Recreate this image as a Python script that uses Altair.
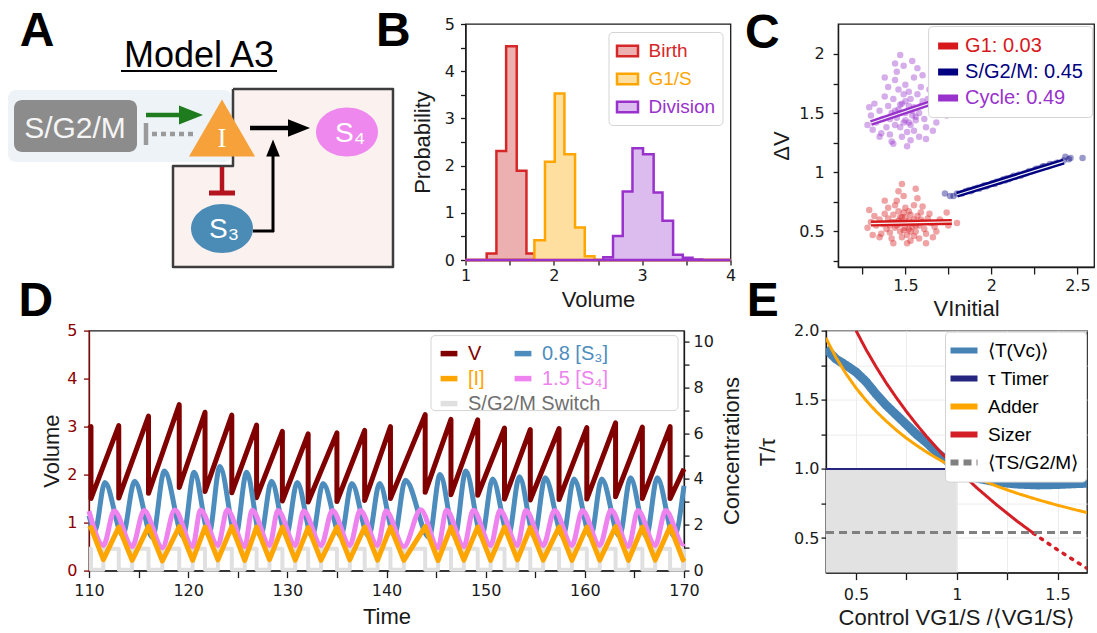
import altair as alt
import pandas as pd

SANS = "Liberation Sans"
TICKF = "DejaVu Sans"
INK = "#1a1a1a"

# ======================= Panel A : model diagram (drawing units) =======================
A_box_x = [7, 13]
A_box_x2 = [231, 136]
A_box_y = [90, 100]
A_box_y2 = [162, 152]
A_box_fill = ["#edf3f7", "#8c8c8c"]

A_cell_x = [232, 172]
A_cell_x2 = [392, 233]
A_cell_y = [89, 166]
A_cell_y2 = [267, 267]

A_outline_x = [232, 392, 392, 172, 172, 232, 232]
A_outline_y = [89, 89, 267, 267, 166, 166, 89]

A_seg_x = [145, 249, 221, 208, 252, 272, 145, 120]
A_seg_x2 = [183, 292, 221, 234, 273, 272, 145, 276]
A_seg_y = [115, 128, 167, 193, 231, 232, 123, 71]
A_seg_y2 = [115, 128, 192, 193, 231, 153, 145, 71]
A_seg_col = ["#1e7b1e", "#000000", "#b4141e", "#b4141e", "#000000", "#000000", "#9a9a9a", "#000000"]
A_seg_w = [4.5, 4.5, 4.5, 5, 3, 3, 4.5, 2]

A_dot_x = [151]
A_dot_x2 = [193]
A_dot_y = [134]

RIGHT_HEAD = "M-1,-0.8L1,0L-1,0.8Z"
UP_HEAD = "M-0.8,1L0,-1L0.8,1Z"
TRIANGLE = "M0,-0.866L1,0.866L-1,0.866Z"
ELLIPSE = "M-1,0A1,0.79,0,1,1,1,0A1,0.79,0,1,1,-1,0Z"

A_node_x = [190, 298, 272, 221, 346, 221]
A_node_y = [115, 128, 148, 128, 132, 228.5]
A_node_shape = [RIGHT_HEAD, RIGHT_HEAD, UP_HEAD, TRIANGLE, ELLIPSE, ELLIPSE]
A_node_size = [576, 484, 289, 4356, 3844, 3844]
A_node_col = ["#1e7b1e", "#000000", "#000000", "#f6a13a", "#ee88ee", "#4b8cb6"]

A_txt = ["Model A3", "S/G2/M", "S₄", "S₃"]
A_txt_x = [198, 74, 349, 223]
A_txt_y = [67, 138, 142, 238]
A_txt_size = [36, 30, 28, 28]
A_txt_col = ["#000000", "#f5f5f5", "#ffffff", "#ffffff"]

# ======================= Panel B : volume histograms =======================
B_series = ["Birth", "G1/S", "Division"]
B_line = ["#d62728", "#ffa500", "#9932cc"]
B_fill = ["#ecb0b0", "#ffdfa0", "#dcbcee"]
B_birth_edges = [1.24, 1.35, 1.46, 1.58, 1.69, 1.78]
B_birth_h = [0.14, 2.31, 4.53, 1.89, 0.14]
B_g1s_edges = [1.78, 1.90, 2.01, 2.12, 2.24, 2.35, 2.46]
B_g1s_h = [0.42, 2.08, 3.53, 2.24, 0.69, 0.08]
B_div_edges = [2.56, 2.67, 2.78, 2.89, 3.01, 3.13, 3.23, 3.35, 3.46, 3.57, 3.68]
B_div_h = [0.06, 0.51, 1.45, 2.37, 2.24, 1.43, 0.83, 0.11, 0.05, 0.01]

# ======================= Panel C : added volume vs initial volume =======================
C_series = ["G1: 0.03", "S/G2/M: 0.45", "Cycle: 0.49"]
C_cols = ["#d7191c", "#000080", "#9932cc"]
C_g1_pts = [(1.50,0.57),(1.45,0.55),(1.55,0.60),(1.48,0.62),(1.52,0.52),(1.42,0.58),(1.58,0.55),(1.47,0.50),
            (1.53,0.64),(1.40,0.61),(1.60,0.58),(1.44,0.53),(1.56,0.50),(1.49,0.66),(1.51,0.47),(1.37,0.56),
            (1.63,0.61),(1.46,0.59),(1.54,0.54),(1.43,0.64),(1.57,0.63),(1.39,0.52),(1.61,0.52),(1.50,0.70),
            (1.48,0.45),(1.35,0.60),(1.65,0.57),(1.41,0.49),(1.59,0.66),(1.52,0.59),(1.46,0.67),(1.55,0.46),
            (1.33,0.55),(1.67,0.54),(1.44,0.72),(1.53,0.42),(1.38,0.65),(1.62,0.48),(1.50,0.53),(1.47,0.56),
            (1.30,0.58),(1.70,0.60),(1.36,0.48),(1.64,0.65),(1.45,0.76),(1.55,0.72),(1.42,0.44),(1.58,0.44),
            (1.32,0.63),(1.68,0.50),(1.28,0.53),(1.72,0.58),(1.49,0.80),(1.40,0.70),(1.60,0.71),(1.35,0.45),
            (1.66,0.45),(1.51,0.40),(1.43,0.40),(1.75,0.55),(1.46,0.84),(1.29,0.68),(1.74,0.66),(1.57,0.78),
            (1.38,0.76),(1.62,0.40),(1.31,0.47),(1.80,0.57),(1.48,0.90),(1.56,0.86),(1.54,0.57),(1.47,0.62),
            (1.53,0.50),(1.41,0.55),(1.59,0.60),(1.50,0.62),(1.44,0.58),(1.56,0.55),(1.49,0.51),(1.52,0.67)]
C_sg_pts = [(1.73,0.82),(1.76,0.80),(1.78,0.80),(1.80,0.82),(1.83,0.82),(1.85,0.84),(1.87,0.85),(1.88,0.84),
            (1.89,0.85),(1.90,0.86),(1.92,0.87),(1.93,0.86),(1.95,0.88),(1.96,0.89),(1.97,0.88),(1.98,0.89),
            (2.00,0.90),(2.01,0.91),(2.02,0.90),(2.03,0.92),(2.04,0.92),(2.05,0.92),(2.06,0.93),(2.07,0.94),
            (2.08,0.93),(2.09,0.95),(2.10,0.94),(2.11,0.95),(2.12,0.96),(2.13,0.97),(2.14,0.96),(2.15,0.97),
            (2.16,0.98),(2.17,0.97),(2.18,0.98),(2.19,0.99),(2.20,0.99),(2.21,1.00),(2.22,1.01),(2.24,1.01),
            (2.25,1.02),(2.26,1.03),(2.27,1.03),(2.29,1.04),(2.30,1.05),(2.31,1.05),(2.33,1.05),(2.34,1.07),
            (2.36,1.07),(2.38,1.08),(2.39,1.08),(2.42,1.10),(2.43,1.13),(2.45,1.11),(2.46,1.12),(2.53,1.12)]
C_cyc_pts = [(1.50,1.50),(1.45,1.46),(1.55,1.55),(1.48,1.58),(1.52,1.42),(1.42,1.50),(1.58,1.50),(1.47,1.38),
             (1.53,1.62),(1.40,1.56),(1.60,1.60),(1.44,1.40),(1.56,1.44),(1.49,1.66),(1.51,1.34),(1.37,1.45),
             (1.63,1.62),(1.46,1.53),(1.54,1.48),(1.43,1.62),(1.57,1.66),(1.39,1.38),(1.61,1.45),(1.50,1.74),
             (1.48,1.30),(1.35,1.52),(1.65,1.55),(1.41,1.32),(1.59,1.72),(1.52,1.56),(1.46,1.70),(1.55,1.35),
             (1.33,1.42),(1.67,1.50),(1.44,1.78),(1.53,1.27),(1.38,1.64),(1.62,1.38),(1.50,1.44),(1.47,1.50),
             (1.30,1.48),(1.70,1.62),(1.36,1.33),(1.64,1.70),(1.45,1.85),(1.55,1.80),(1.42,1.26),(1.58,1.30),
             (1.32,1.58),(1.68,1.42),(1.28,1.40),(1.72,1.55),(1.49,1.90),(1.40,1.72),(1.60,1.82),(1.35,1.30),
             (1.66,1.35),(1.51,1.22),(1.43,1.24),(1.74,1.48),(1.47,1.99),(1.29,1.55),(1.73,1.70),(1.57,1.88),
             (1.38,1.80),(1.62,1.28),(1.31,1.36),(1.76,1.60),(1.44,1.92),(1.54,1.94),(1.54,1.52),(1.47,1.57),
             (1.53,1.40),(1.41,1.45),(1.59,1.56),(1.50,1.60),(1.44,1.52),(1.56,1.47),(1.49,1.42),(1.52,1.68)]
C_fit_g1_x = [1.30, 1.77]
C_fit_g1_y = [0.566, 0.580]
C_fit_sg_x = [1.80, 2.42]
C_fit_sg_y = [0.81, 1.09]
C_fit_cyc_x = [1.30, 1.76]
C_fit_cyc_y = [1.416, 1.64]

# ======================= Panel D : time courses =======================
D_left_names = ["V", "[I]", "S/G2/M Switch"]
D_left_colors = ["#800000", "#ffa500", "#e0e0e0"]
D_left_label_colors = ["#800000", "#ffa500", "#6f6f6f"]
D_right_names = ["0.8 [S₃]", "1.5 [S₄]"]
D_right_colors = ["#4d8dbd", "#ee82ee"]
D_div = [110.2, 113.0, 116.0, 119.1, 121.7, 124.4, 126.9, 129.5, 132.1, 135.0, 137.8,
         140.4, 143.9, 146.5, 149.2, 151.9, 154.5, 157.4, 160.2, 163.1, 165.8, 168.6]
D_Vpeak = [3.0, 3.02, 3.22, 3.46, 3.3, 3.24, 3.03, 2.9, 2.85, 2.87, 2.92,
           3.0, 3.25, 3.15, 3.14, 2.97, 2.94, 2.96, 2.98, 3.08, 2.99, 3.0]
D_Vbirth = [1.5, 1.51, 1.61, 1.73, 1.65, 1.62, 1.52, 1.45, 1.43, 1.44, 1.46,
            1.5, 1.63, 1.58, 1.57, 1.49, 1.47, 1.48, 1.49, 1.54, 1.5, 1.5]
D_g1s = [111.45, 114.35, 117.4, 120.45, 123.0, 125.7, 128.2, 130.8, 133.4, 136.3, 139.1,
         141.75, 145.2, 147.8, 150.5, 153.2, 155.8, 158.7, 161.5, 164.4, 167.1, 169.9]
D_Ipeak = [1.88, 1.9, 1.93, 1.92, 1.9, 1.92, 1.9, 1.9, 1.88, 1.9, 1.9,
           1.9, 1.92, 1.9, 1.9, 1.9, 1.88, 1.9, 1.9, 1.92, 1.9, 1.92]
D_Itrough = [0.48, 0.45, 0.42, 0.45, 0.47, 0.45, 0.48, 0.46, 0.45, 0.47, 0.46,
             0.45, 0.44, 0.46, 0.45, 0.47, 0.46, 0.45, 0.46, 0.45, 0.46, 0.47]
D_S3_tr_t = [110.6, 113.4, 116.4, 119.5, 122.1, 124.8, 127.3, 129.9, 132.5, 135.4, 138.2,
             140.8, 144.3, 146.9, 149.6, 152.3, 154.9, 157.8, 160.6, 163.5, 166.2, 169.0]
D_S3_tr = [1.75, 1.55, 1.45, 1.5, 1.6, 1.55, 1.5, 1.55, 1.5, 1.5, 1.5,
           1.55, 1.45, 1.5, 1.5, 1.55, 1.5, 1.5, 1.5, 1.5, 1.5, 1.5]
D_S3_pk_t = [111.6, 114.6, 117.6, 120.6, 123.2, 125.9, 128.4, 131.0, 133.6, 136.5, 139.3,
             141.9, 145.4, 148.0, 150.7, 153.4, 156.0, 158.9, 161.7, 164.6, 167.3]
D_S3_pk = [3.85, 3.9, 4.35, 4.3, 4.55, 4.3, 3.9, 3.85, 3.8, 3.8, 3.8,
           3.95, 4.2, 4.35, 4.0, 4.1, 4.05, 4.0, 4.0, 4.05, 4.05]
D_S4_pk_t = [112.55, 115.55, 118.65, 121.25, 123.95, 126.45, 129.05, 131.65, 134.55, 137.35, 139.95,
             143.45, 146.05, 148.75, 151.45, 154.05, 156.95, 159.75, 162.65, 165.35, 168.15]
D_S4_pk = [2.6, 2.62, 2.65, 2.65, 2.66, 2.64, 2.62, 2.6, 2.62, 2.62, 2.6,
           2.66, 2.64, 2.64, 2.62, 2.62, 2.62, 2.62, 2.64, 2.62, 2.62]
D_S4_tr = [1.1, 1.05, 1.0, 1.05, 1.1, 1.05, 1.1, 1.1, 1.1, 1.1, 1.1,
           1.05, 1.0, 1.05, 1.1, 1.1, 1.1, 1.1, 1.1, 1.05, 1.1, 1.15]
D_switch_hi = 0.95
D_switch_lo = 0.04

# ======================= Panel E : timing laws =======================
E_names = ["⟨T(Vᴄ)⟩", "τ Timer", "Adder", "Sizer", "⟨TS/G2/M⟩"]
E_colors = ["#4682b4", "#262680", "#ffa500", "#d41f26", "#808080"]
E_dashes = [[1, 0], [1, 0], [1, 0], [1, 0], [8, 5]]
E_T_x = [0.35, 0.4, 0.45, 0.5, 0.55, 0.6, 0.65, 0.7, 0.75, 0.8, 0.85, 0.9, 0.95, 1.0,
         1.05, 1.1, 1.2, 1.3, 1.4, 1.5, 1.6, 1.646]
E_T_y = [1.87, 1.795, 1.75, 1.70, 1.63, 1.54, 1.46, 1.39, 1.32, 1.25, 1.19, 1.12, 1.06, 1.0,
         0.96, 0.933, 0.904, 0.89, 0.884, 0.887, 0.894, 0.896]
E_adder_x = [0.35, 0.4, 0.45, 0.5, 0.55, 0.6, 0.65, 0.7, 0.75, 0.8, 0.85, 0.9, 0.95, 1.0,
             1.1, 1.2, 1.3, 1.4, 1.5, 1.6, 1.646]
E_adder_y = [1.947, 1.807, 1.688, 1.585, 1.495, 1.415, 1.345, 1.280, 1.222, 1.170, 1.122, 1.078,
             1.037, 1.0, 0.933, 0.874, 0.823, 0.778, 0.737, 0.700, 0.684]
E_sizer_x = [0.5, 0.55, 0.6, 0.65, 0.7, 0.75, 0.8, 0.85, 0.9, 0.95, 1.0, 1.1, 1.2, 1.3, 1.38]
E_sizer_y = [2.0, 1.862, 1.737, 1.621, 1.515, 1.415, 1.322, 1.234, 1.152, 1.074, 1.0, 0.862,
             0.737, 0.621, 0.535]
E_sizer_dot_x = [1.38, 1.45, 1.5, 1.55, 1.6, 1.646]
E_sizer_dot_y = [0.535, 0.464, 0.415, 0.368, 0.322, 0.281]
E_timer_x = [0.351, 1.646]
E_timer_y = [1.0, 1.0]
E_sg2m_x = [0.351, 1.646]
E_sg2m_y = [0.54, 0.54]
E_shade = {"x": [0.351], "x2": [1.0], "y": [0.25], "y2": [1.0]}


# ======================= helpers =======================
def label_color_expr(names, colors, default=INK):
    expr = f"'{default}'"
    for n, c in reversed(list(zip(names, colors))):
        expr = f"datum.label == '{n}' ? '{c}' : " + expr
    return {"expr": expr}


def letter(ch, dx, dy):
    return alt.Chart(pd.DataFrame({"t": [ch]})).mark_text(
        font=SANS, fontSize=48, fontWeight="bold", align="left", baseline="alphabetic", color="#000000"
    ).encode(text="t:N", x=alt.value(dx), y=alt.value(dy))


RES = dict(color="independent", fill="independent", stroke="independent", strokeDash="independent",
           shape="independent", size="independent", strokeWidth="independent")


def indep(c):
    return c.resolve_scale(**RES)


LEG = dict(title=None, fillColor="white", strokeColor="#d4d4d4", cornerRadius=4, labelFont=SANS)

# ======================= build Panel A =======================
axs = alt.Scale(domain=[0, 395], nice=False, zero=False)
ays = alt.Scale(domain=[24, 309], nice=False, zero=False, reverse=True)
AX = alt.X("x:Q", scale=axs, axis=None)
AY = alt.Y("y:Q", scale=ays, axis=None)

a_boxes = alt.Chart(pd.DataFrame({"x": A_box_x, "x2": A_box_x2, "y": A_box_y, "y2": A_box_y2, "c": A_box_fill})
                    ).mark_rect(cornerRadius=8).encode(x=AX, x2="x2:Q", y=AY, y2="y2:Q",
                                                       color=alt.Color("c:N", scale=None))
a_cell = alt.Chart(pd.DataFrame({"x": A_cell_x, "x2": A_cell_x2, "y": A_cell_y, "y2": A_cell_y2})
                   ).mark_rect(color="#fbf1ef").encode(x=AX, x2="x2:Q", y=AY, y2="y2:Q")
a_outline = alt.Chart(pd.DataFrame({"x": A_outline_x, "y": A_outline_y, "o": list(range(len(A_outline_x)))})
                      ).mark_line(color="#3d3d3d", strokeWidth=2.5, strokeJoin="round").encode(
    x=AX, y=AY, order="o:Q")
a_segs = alt.Chart(pd.DataFrame({"x": A_seg_x, "x2": A_seg_x2, "y": A_seg_y, "y2": A_seg_y2,
                                 "c": A_seg_col, "w": A_seg_w})).mark_rule().encode(
    x=AX, x2="x2:Q", y=AY, y2="y2:Q", color=alt.Color("c:N", scale=None),
    strokeWidth=alt.StrokeWidth("w:Q", scale=None))
a_dots = alt.Chart(pd.DataFrame({"x": A_dot_x, "x2": A_dot_x2, "y": A_dot_y})).mark_rule(
    color="#9a9a9a", strokeWidth=4.5, strokeDash=[5, 4]).encode(x=AX, x2="x2:Q", y=AY)
a_nodes = alt.Chart(pd.DataFrame({"x": A_node_x, "y": A_node_y, "s": A_node_shape, "z": A_node_size,
                                  "c": A_node_col})).mark_point(filled=True, opacity=1, strokeWidth=0).encode(
    x=AX, y=AY, shape=alt.Shape("s:N", scale=None), size=alt.Size("z:Q", scale=None),
    color=alt.Color("c:N", scale=None))
a_text = alt.Chart(pd.DataFrame({"x": A_txt_x, "y": A_txt_y, "t": A_txt, "f": A_txt_size, "c": A_txt_col})
                   ).mark_text(font=SANS, align="center", baseline="alphabetic").encode(
    x=AX, y=AY, text="t:N", size=alt.Size("f:Q", scale=None), color=alt.Color("c:N", scale=None))
a_I = alt.Chart(pd.DataFrame({"x": [221], "y": [147], "t": ["I"]})).mark_text(
    font="Liberation Serif", fontSize=27, color="white", align="center", baseline="alphabetic").encode(
    x=AX, y=AY, text="t:N")
a_letter = alt.Chart(pd.DataFrame({"x": [36], "y": [46], "t": ["A"]})).mark_text(
    font=SANS, fontSize=48, fontWeight="bold", align="center", baseline="alphabetic", color="#000").encode(
    x=AX, y=AY, text="t:N")
panelA = alt.layer(a_boxes, a_cell, a_outline, a_segs, a_dots, a_nodes, a_text, a_I, a_letter).properties(
    width=395, height=285, view=alt.ViewBackground(stroke="transparent"))

# ======================= build Panel B =======================
rowsB = []
for name, edges, hts in zip(B_series, [B_birth_edges, B_g1s_edges, B_div_edges], [B_birth_h, B_g1s_h, B_div_h]):
    rowsB.append({"series": name, "v": 1.0, "p": 0.0})
    for e, h in zip(edges[:-1], hts):
        rowsB.append({"series": name, "v": e, "p": h})
    rowsB.append({"series": name, "v": edges[-1], "p": 0.0})
    rowsB.append({"series": name, "v": 4.0, "p": 0.0})
dfB = pd.DataFrame(rowsB)
legB = alt.Legend(orient="top-right", offset=8, padding=7, labelFontSize=19,
                  labelColor=label_color_expr(B_series, B_line), symbolType="M-1,-0.5H1V0.5H-1Z",
                  symbolSize=441, symbolStrokeWidth=2.5, rowPadding=5, labelOffset=9, **LEG)
b_hist = alt.Chart(dfB).mark_area(interpolate="step-after", strokeWidth=2.5).encode(
    x=alt.X("v:Q", scale=alt.Scale(domain=[1, 4], nice=False, zero=False),
            axis=alt.Axis(values=[1, 1.5, 2, 2.5, 3, 3.5, 4], format="~g",
                          labelExpr="datum.value % 1 == 0 ? datum.label : ''",
                          title="Volume", tickSize=5, labelPadding=2, titlePadding=6)),
    y=alt.Y("p:Q", stack=None, scale=alt.Scale(domain=[0, 5], nice=False),
            axis=alt.Axis(values=[0, 0.5, 1, 1.5, 2, 2.5, 3, 3.5, 4, 4.5, 5], format="~g",
                          labelExpr="datum.value % 1 == 0 ? datum.label : ''",
                          title="Probability", tickSize=5, labelPadding=6, titlePadding=10)),
    fill=alt.Fill("series:N", scale=alt.Scale(domain=B_series, range=B_fill), legend=legB),
    stroke=alt.Stroke("series:N", scale=alt.Scale(domain=B_series, range=B_line), legend=legB),
)
panelB = alt.layer(b_hist, letter("B", -89.5, 22)).properties(width=265, height=236)

# ======================= build Panel C =======================
rowsC = []
for name, pts in zip(C_series, [C_g1_pts, C_sg_pts, C_cyc_pts]):
    for x, y in pts:
        rowsC.append({"series": name, "x": x, "y": y})
dfC = pd.DataFrame(rowsC)
cX = alt.X("x:Q", scale=alt.Scale(domain=[1.109, 2.597], nice=False, zero=False),
           axis=alt.Axis(values=[1.25, 1.5, 1.75, 2, 2.25, 2.5], format="~g",
                         labelExpr="datum.value % 0.5 == 0 ? datum.label : ''",
                         title="VInitial", tickSize=7, labelPadding=3, titlePadding=5))
cY = alt.Y("y:Q", scale=alt.Scale(domain=[0.199, 2.253], nice=False, zero=False),
           axis=alt.Axis(values=[0.25, 0.5, 0.75, 1, 1.25, 1.5, 1.75, 2], format="~g",
                         labelExpr="datum.value % 0.5 == 0 ? datum.label : ''",
                         title="ΔV", tickSize=5, labelPadding=9, titlePadding=5))
legC = alt.Legend(orient="top-right", offset=2, padding=9, labelFontSize=20,
                  labelColor=label_color_expr(C_series, C_cols), symbolType="M-1,-0.35H1V0.35H-1Z",
                  symbolSize=400, symbolOpacity=1, rowPadding=5, labelOffset=6, **LEG)
c_pts = alt.Chart(dfC).mark_circle(size=42, opacity=0.4).encode(
    x=cX, y=cY, color=alt.Color("series:N", scale=alt.Scale(domain=C_series, range=C_cols), legend=legC))
c_layers = [c_pts]
for fx, fy, col in [(C_fit_g1_x, C_fit_g1_y, C_cols[0]), (C_fit_sg_x, C_fit_sg_y, C_cols[1]),
                    (C_fit_cyc_x, C_fit_cyc_y, C_cols[2])]:
    dfit = pd.DataFrame({"x": fx, "y": fy})
    c_layers.append(alt.Chart(dfit).mark_line(color=col, strokeWidth=6).encode(x=cX, y=cY))
    c_layers.append(alt.Chart(dfit).mark_line(color="#f4f4f4", strokeWidth=1.2).encode(x=cX, y=cY))
c_layers.append(letter("C", -93, 23.5))
panelC = alt.layer(*c_layers).properties(width=256, height=243)

# ======================= build Panel D =======================
rowsD = []


def add_series(name, pts):
    for i, (t, v) in enumerate(pts):
        rowsD.append({"series": name, "t": t, "val": v, "ord": i})


V_pts = [(110.0, 2.97)]
for t, vp, vb in zip(D_div, D_Vpeak, D_Vbirth):
    V_pts += [(t, vp), (t, vb)]
V_pts.append((170.0, 2.12))
add_series("V", V_pts)

S3_pts = [(110.0, 2.4)]
for k in range(len(D_S3_tr_t)):
    S3_pts.append((D_S3_tr_t[k], D_S3_tr[k]))
    if k < len(D_S3_pk_t):
        S3_pts.append((D_S3_pk_t[k], D_S3_pk[k]))
S3_pts.append((170.0, 3.7))
add_series("0.8 [S₃]", S3_pts)

I_pts = [(110.0, 1.80)]
for k in range(len(D_div)):
    I_pts += [(D_div[k], D_Ipeak[k]), (D_g1s[k], D_Itrough[k])]
I_pts.append((170.0, 0.55))
add_series("[I]", I_pts)

S4_pts = [(110.0, 2.6)]
for k in range(len(D_g1s)):
    S4_pts.append((D_g1s[k], D_S4_tr[k]))
    if k < len(D_S4_pk_t):
        S4_pts.append((D_S4_pk_t[k], D_S4_pk[k]))
S4_pts.append((170.0, 1.18))
add_series("1.5 [S₄]", S4_pts)

SW_pts = [(110.0, D_switch_hi)]
for k in range(len(D_div)):
    SW_pts += [(D_div[k], D_switch_lo), (D_g1s[k], D_switch_hi)]
SW_pts.append((170.0, D_switch_hi))
add_series("S/G2/M Switch", SW_pts)
dfD = pd.DataFrame(rowsD)

dX = alt.X("t:Q", scale=alt.Scale(domain=[110, 170], nice=False, zero=False),
           axis=alt.Axis(values=list(range(110, 171, 5)), labelExpr="datum.value % 10 == 0 ? datum.label : ''",
                         title="Time", tickSize=7, labelPadding=4.5, titlePadding=8))
dColL = alt.Scale(domain=D_left_names, range=D_left_colors)
dColR = alt.Scale(domain=D_right_names, range=D_right_colors)
D_LEG = dict(title=None, orient="none", legendY=5, padding=8, labelFont=SANS, labelFontSize=20,
             symbolType="M-1.2,0H1.2", symbolStrokeWidth=5.5, symbolSize=196, rowPadding=3, labelOffset=9)
legD1 = alt.Legend(legendX=342, labelColor=label_color_expr(D_left_names, D_left_label_colors), **D_LEG)
legD2 = alt.Legend(legendX=416, labelColor=label_color_expr(D_right_names, D_right_colors), **D_LEG)
yL = alt.Y("val:Q", scale=alt.Scale(domain=[0, 5], nice=False),
           axis=alt.Axis(orient="left", values=[0, 1, 2, 3, 4, 5], title="Volume", labelColor="#8b0000",
                         tickColor="#8b0000", domainColor="#8b0000", tickSize=5.5, labelPadding=6.5,
                         titlePadding=3))
yR = alt.Y("val:Q", scale=alt.Scale(domain=[0, 10.48], nice=False),
           axis=alt.Axis(orient="right", values=list(range(0, 11)),
                         labelExpr="datum.value % 2 == 0 ? datum.label : ''", title="Concentrations",
                         titleAngle=270, titleBaseline="top", tickSize=5, labelPadding=4, titlePadding=7.7))


def dline(name, y, interp, width, channel="color"):
    if channel == "color":
        cenc = {"color": alt.Color("series:N", scale=dColL, legend=legD1)}
    else:
        cenc = {"stroke": alt.Stroke("series:N", scale=dColR, legend=legD2)}
    return alt.Chart(dfD).transform_filter(alt.datum.series == name).mark_line(
        interpolate=interp, strokeWidth=width, strokeJoin="round").encode(
        x=dX, y=y, order="ord:Q", **cenc)


d_left = dline("V", yL, "linear", 5)
d_right = alt.layer(dline("S/G2/M Switch", yR, "step-after", 4),
                    dline("0.8 [S₃]", yR, "monotone", 5, channel="stroke"),
                    dline("1.5 [S₄]", yR, "monotone", 5, channel="stroke"),
                    dline("[I]", yR, "linear", 5))
d_frame = alt.Chart(pd.DataFrame({"k": [0]})).mark_rect(
    fill="white", stroke="#d4d4d4", strokeWidth=1, cornerRadius=4).encode(
    x=alt.value(342), x2=alt.value(589), y=alt.value(5), y2=alt.value(80))
panelD = alt.layer(d_left, d_right, d_frame, letter("D", -70.5, -14.4)).resolve_scale(
    y="independent").properties(width=595, height=240)

# ======================= build Panel E =======================
eX = alt.X("x:Q", scale=alt.Scale(domain=[0.351, 1.646], nice=False, zero=False),
           axis=alt.Axis(values=[0.5, 0.75, 1, 1.25, 1.5], format="~g",
                         labelExpr="datum.value % 0.5 == 0 ? datum.label : ''", grid=True, gridColor="#ececec",
                         title="Control VG1/S /⟨VG1/S⟩", tickSize=7, labelPadding=6.5, titlePadding=5))
eY = alt.Y("y:Q", scale=alt.Scale(domain=[0.25, 2.0], nice=False, zero=False),
           axis=alt.Axis(values=[0.5, 0.75, 1, 1.25, 1.5, 1.75, 2.0], format=".1f",
                         labelExpr="datum.value % 0.5 == 0 ? datum.label : ''", grid=True, gridColor="#ececec",
                         title="T/τ", tickSize=5, labelPadding=2, titlePadding=14))
eCol = alt.Scale(domain=E_names, range=E_colors)
eDash = alt.Scale(domain=E_names, range=E_dashes)
legE = alt.Legend(orient="top-right", offset=1, padding=7, labelFontSize=19, symbolType="M-1.5,0H1.5",
                  symbolStrokeWidth=6, symbolSize=324, rowPadding=4, labelOffset=12, **LEG)


def eline(name, xs, ys, width, dash_value=None, cap="butt"):
    df = pd.DataFrame({"x": xs, "y": ys, "series": [name] * len(xs)})
    enc = dict(x=eX, y=eY, color=alt.Color("series:N", scale=eCol, legend=legE))
    if dash_value is None:
        enc["strokeDash"] = alt.StrokeDash("series:N", scale=eDash, legend=legE)
    else:
        enc["strokeDash"] = alt.value(dash_value)
    return alt.Chart(df).mark_line(strokeWidth=width, strokeCap=cap, clip=True).encode(**enc)


e_shade = alt.Chart(pd.DataFrame(E_shade)).mark_rect(color="#e2e2e2").encode(x=eX, x2="x2:Q", y=eY, y2="y2:Q")
panelE = alt.layer(
    e_shade,
    eline(E_names[0], E_T_x, E_T_y, 9),
    eline(E_names[1], E_timer_x, E_timer_y, 2),
    eline(E_names[2], E_adder_x, E_adder_y, 3),
    eline(E_names[3], E_sizer_x, E_sizer_y, 3),
    eline(E_names[3], E_sizer_dot_x, E_sizer_dot_y, 3.5, dash_value=[2, 7], cap="round"),
    eline(E_names[4], E_sg2m_x, E_sg2m_y, 3),
    letter("E", -79.2, -14.4),
).properties(width=261, height=242)

# ======================= layout =======================
spacer = alt.Chart(pd.DataFrame({"s": [""]})).mark_text().encode(text="s:N").properties(
    width=15.5, height=10, view=alt.ViewBackground(stroke="transparent"))

top = indep(alt.hconcat(panelA, indep(alt.hconcat(panelB, panelC, spacing=7.6)), spacing=-22.5))
bottom = indep(alt.hconcat(spacer, indep(alt.hconcat(panelD, panelE, spacing=3)), spacing=0))

chart = indep(alt.vconcat(top, bottom, spacing=-43.4)).properties(
    padding={"left": 0, "top": 7, "right": 0, "bottom": 0}, background="white"
).configure_view(stroke=INK, strokeWidth=1.3).configure_axis(
    labelFont=TICKF, labelFontSize=16, titleFont=SANS, titleFontSize=22, titleFontWeight="normal",
    grid=False, domainColor=INK, tickColor=INK, labelColor=INK, titleColor=INK,
    domainWidth=1.3, tickWidth=1.3, labelFlush=False, labelOverlap=False
).configure_text(font=SANS)

chart.save("out.html", embed_options={"renderer": "svg", "actions": False})
